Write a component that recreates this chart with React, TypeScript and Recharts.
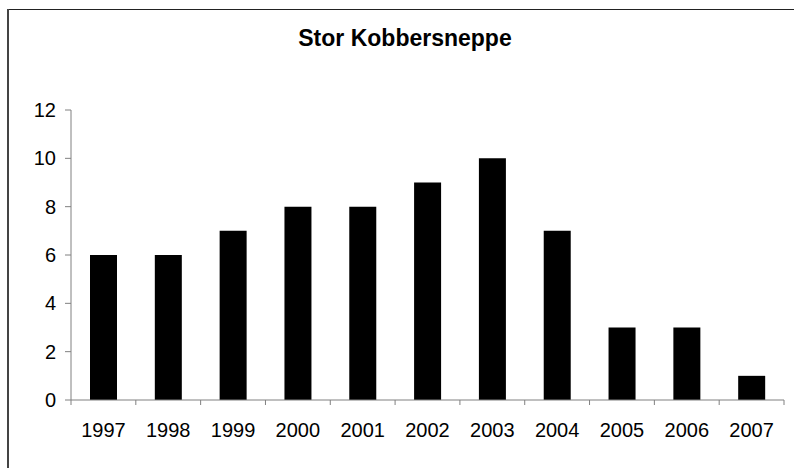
import React from "react";
import { BarChart, Bar, XAxis, YAxis } from "recharts";

const years = ["1997", "1998", "1999", "2000", "2001", "2002", "2003", "2004", "2005", "2006", "2007"];
const counts = [6, 6, 7, 8, 8, 9, 10, 7, 3, 3, 1];
const yTicks = [0, 2, 4, 6, 8, 10, 12];
const title = "Stor Kobbersneppe";

const data = years.map((y, i) => ({ year: y, value: counts[i] }));

const FONT = "'Liberation Sans', Arial, sans-serif";
const AXIS = "#808080";

if (typeof document !== "undefined") {
  document.documentElement.style.overflow = "hidden";
  document.body.style.overflow = "hidden";
}

const XTick = (props: any) => {
  const { x, y, payload, index } = props;
  const half = payload && payload.offset ? payload.offset : 713 / 11 / 2;
  const axisY = y - 5 - 18;
  return (
    <g>
      <line x1={x - half} x2={x - half} y1={axisY} y2={axisY + 5} stroke={AXIS} strokeWidth={1} />
      {index === years.length - 1 && (
        <line x1={x + half} x2={x + half} y1={axisY} y2={axisY + 5} stroke={AXIS} strokeWidth={1} />
      )}
      <text x={x} y={y} dy="0.71em" textAnchor="middle" fontSize={20} fontFamily={FONT} fill="#000">
        {payload.value}
      </text>
    </g>
  );
};

export default function App() {
  return (
    <div style={{ position: "fixed", left: 0, top: 0, width: 794, height: 468, overflow: "hidden", background: "#fff" }}>
      <div style={{ position: "absolute", left: 7, top: 9, width: 787, height: 1, background: "#222" }} />
      <div style={{ position: "absolute", left: 7, top: 9, width: 2, height: 459, background: "#444" }} />
      <div
        style={{
          position: "absolute",
          left: 0,
          top: 27,
          width: 810,
          textAlign: "center",
          fontFamily: FONT,
          fontWeight: "bold",
          fontSize: 23,
          lineHeight: "22px",
          color: "#000",
          whiteSpace: "nowrap",
        }}
      >
        {title}
      </div>
      <div style={{ position: "absolute", left: 0, top: 0 }}>
        <BarChart width={794} height={468} data={data} margin={{ top: 110, right: 10, left: 0, bottom: 38 }}>
          <XAxis
            dataKey="year"
            height={30}
            axisLine={{ stroke: AXIS }}
            tickLine={false}
            tickSize={5}
            tickMargin={18}
            tick={<XTick />}
            interval={0}
          />
          <YAxis
            width={71}
            domain={[0, 12]}
            ticks={yTicks}
            axisLine={{ stroke: AXIS }}
            tickLine={{ stroke: AXIS }}
            tickSize={6}
            tickMargin={9}
            tick={{ fontSize: 20, fontFamily: FONT, fill: "#000" }}
            interval={0}
          />
          <Bar dataKey="value" fill="#000" barSize={27} isAnimationActive={false} />
        </BarChart>
      </div>
    </div>
  );
}
